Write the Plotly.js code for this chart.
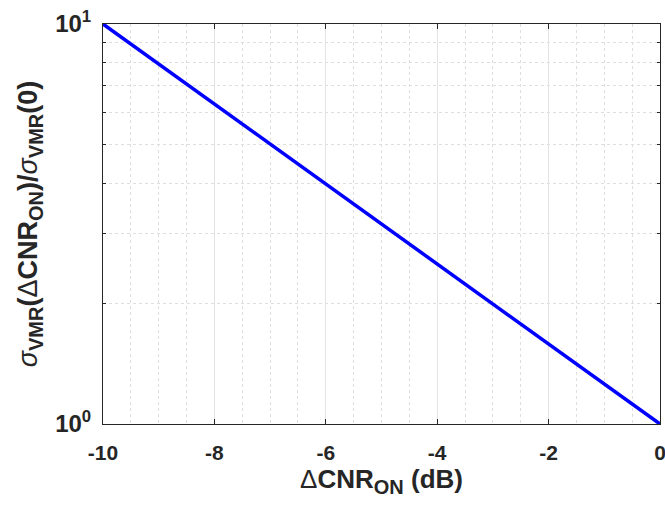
<!DOCTYPE html>
<html>
<head>
<meta charset="utf-8">
<script src="https://cdn.plot.ly/plotly-3.0.1.min.js"></script>
<style>html,body{margin:0;padding:0;background:#fff;}#chart{width:665px;height:506px;}</style>
</head>
<body>
<div id="chart"></div>
<script>
const deltaCNR = [-10, -8, -6, -4, -2, 0];
const sigmaRatio = [10, 6.31, 3.98, 2.51, 1.585, 1];
const xTickVals = [-10, -8, -6, -4, -2, 0];
const xTickText = ['-10', '-8', '-6', '-4', '-2', '0'];
const yTickVals = [1, 10];
const yTickText = ['10<sup>0</sup>', '10<sup>1</sup>'];
const yMinorVals = [2, 3, 4, 5, 6, 7, 8, 9];

const trace = {
  x: deltaCNR, y: sigmaRatio, mode: 'lines', type: 'scatter',
  line: {color: '#0000ff', width: 3.5}, hoverinfo: 'none', cliponaxis: false
};

const fontFam = 'Liberation Sans, Arial, sans-serif';
const sub = t => '<sub><span style="font-size:20px">' + t + '</span></sub>';
const sig = '<span style="font-weight:normal"><i>σ</i></span>';
const delta = '<span style="font-weight:normal">Δ</span>';
const layout = {
  width: 665, height: 506,
  margin: {l: 103, r: 5, t: 24, b: 82},
  paper_bgcolor: '#ffffff', plot_bgcolor: '#ffffff',
  showlegend: false,
  xaxis: {
    range: [-10, 0], tickmode: 'array', tickvals: xTickVals, ticktext: xTickText,
    ticks: 'inside', ticklen: 5, tickcolor: '#262626', ticklabeloverflow: 'allow',
    ticklabelstandoff: 10,
    showline: true, linecolor: '#262626', linewidth: 1, mirror: 'ticks',
    showgrid: true, gridcolor: '#e3e3e3', gridwidth: 1,
    minor: {dtick: 0.5, showgrid: true, griddash: 'dot', gridcolor: '#dedede', ticks: ''},
    zeroline: false,
    tickfont: {family: fontFam, size: 21, color: '#262626', weight: 'bold'},
    title: {text: delta + 'CNR' + sub('ON') + ' (dB)', font: {family: fontFam, size: 26, color: '#262626', weight: 'bold'}, standoff: 6}
  },
  yaxis: {
    type: 'log', range: [0, 1], tickmode: 'array', tickvals: yTickVals, ticktext: yTickText,
    ticks: 'inside', ticklen: 5, tickcolor: '#262626', ticklabeloverflow: 'allow',
    ticklabelstandoff: 6,
    showline: true, linecolor: '#262626', linewidth: 1, mirror: 'ticks',
    showgrid: true, gridcolor: '#e3e3e3',
    minor: {tickmode: 'array', tickvals: yMinorVals, showgrid: true, griddash: 'dot', gridcolor: '#dedede', ticks: 'inside', ticklen: 3, tickcolor: '#262626'},
    zeroline: false,
    tickfont: {family: fontFam, size: 24, color: '#262626', weight: 'bold'},
    title: {text: sig + sub('VMR') + '(' + delta + 'CNR' + sub('ON') + ')/' + sig + sub('VMR') + '(0)', font: {family: fontFam, size: 27, color: '#262626', weight: 'bold'}, standoff: 9}
  }
};

Plotly.newPlot('chart', [trace], layout, {displayModeBar: false, staticPlot: true});
</script>
</body>
</html>
